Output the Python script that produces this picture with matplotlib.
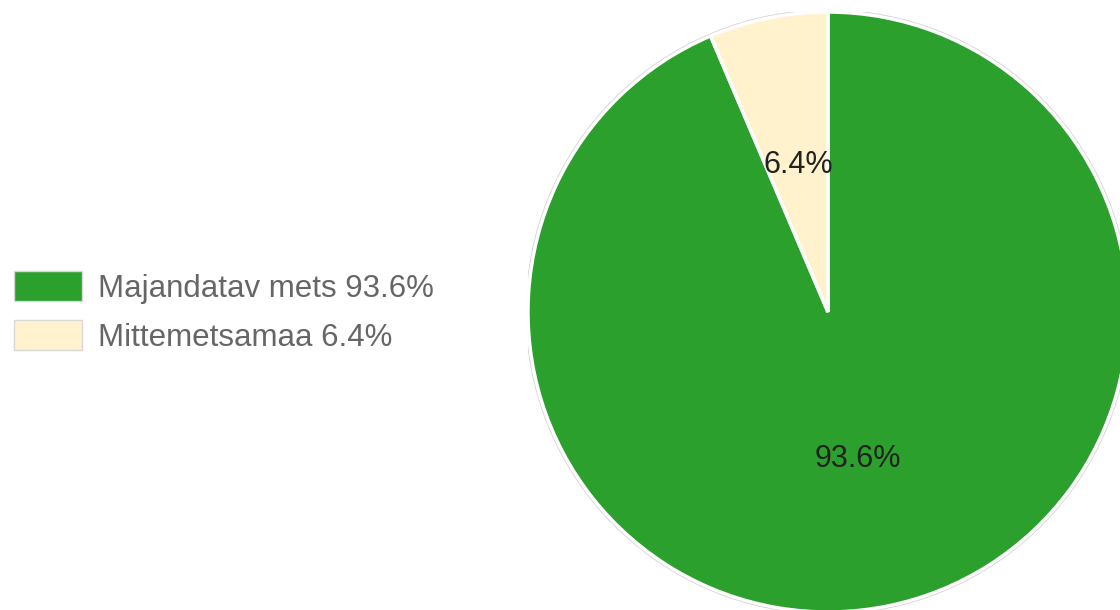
import matplotlib
matplotlib.use("Agg")
import matplotlib.pyplot as plt
from matplotlib.patches import Patch, Circle

labels = ["Majandatav mets", "Mittemetsamaa"]
values = [93.6, 6.4]
colors = ["#2ca02c", "#fff2cc"]

plt.rcParams['font.family'] = ['Liberation Sans', 'DejaVu Sans']

fig = plt.figure(figsize=(11.2, 6.1), dpi=100)
ax = fig.add_axes([0.4714, -0.0033, 0.5357, 0.9836])
ax.set_xlim(-1, 1)
ax.set_ylim(-1, 1)

ax.add_patch(Circle((0, 0), 1.006, facecolor='none', edgecolor='#d0d0d0', lw=1.0, zorder=0))
wedges, texts, autotexts = ax.pie(
    values, colors=colors, startangle=90, counterclock=False,
    autopct='%1.1f%%', pctdistance=0.5, radius=1.0,
    wedgeprops=dict(edgecolor='white', linewidth=2.5),
    textprops=dict(fontsize=22, color='#222222'))
ax.set_xlim(-1, 1)
ax.set_ylim(-1, 1)
ax.set_aspect('equal')
ax.axis('off')

handles = [Patch(facecolor=c, edgecolor='#d8d8d8', linewidth=1.0) for c in colors]
leg_labels = [f"{l} {v}%" for l, v in zip(labels, values)]
leg = fig.legend(handles, leg_labels, loc='center left', bbox_to_anchor=(0.0125, 0.4885),
                 frameon=False, fontsize=22.5, handlelength=2.18, handleheight=1.08,
                 handletextpad=0.5, labelspacing=0.52, borderpad=0, borderaxespad=0)
for t in leg.get_texts():
    t.set_color('#666666')

fig.savefig('out.png', dpi=100)
